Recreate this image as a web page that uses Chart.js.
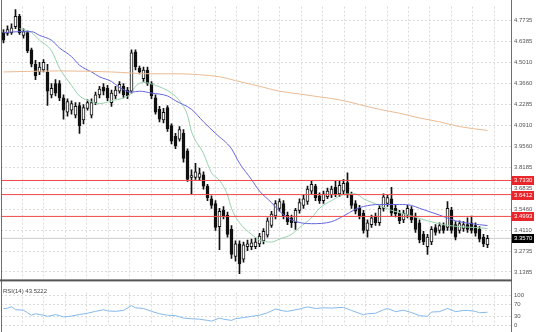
<!DOCTYPE html>
<html><head><meta charset="utf-8">
<script src="https://cdn.jsdelivr.net/npm/chart.js@4.4.1/dist/chart.umd.min.js"></script>
<style>
html,body{margin:0;padding:0;background:#fff;overflow:hidden}
#wrap{position:relative;width:536px;height:332px}
canvas{position:absolute;left:0}
#main{top:0}
#rsi{top:286px}
</style></head><body>
<div id="wrap"><canvas id="main" width="536" height="286"></canvas><canvas id="rsi" width="536" height="46"></canvas></div>
<script>
// ---- candle data (price) ----
const opens = [4.694,4.688,4.694,4.732,4.800,4.676,4.694,4.582,4.488,4.438,
4.451,4.438,4.289,4.363,4.363,4.270,4.176,4.189,4.157,4.220,
4.126,4.201,4.157,4.239,4.289,4.338,4.332,4.239,4.282,4.313,
4.345,4.320,4.313,4.569,4.463,4.395,4.451,4.363,4.270,4.195,
4.126,4.207,4.089,4.020,4.001,4.039,3.926,3.752,3.752,3.752,
3.770,3.696,3.614,3.583,3.433,3.539,3.508,3.415,3.240,3.321,
3.221,3.302,3.302,3.302,3.321,3.340,3.377,3.440,3.502,3.552,
3.583,3.508,3.490,3.458,3.539,3.571,3.596,3.664,3.696,3.633,
3.602,3.627,3.639,3.689,3.646,3.664,3.720,3.639,3.583,3.552,
3.521,3.408,3.446,3.502,3.458,3.552,3.583,3.614,3.552,3.521,
3.477,3.508,3.546,3.502,3.458,3.383,3.302,3.333,3.427,3.408,
3.440,3.427,3.539,3.446,3.408,3.421,3.446,3.458,3.440,3.415,
3.365,3.315];
const highs = [4.713,4.738,4.751,4.844,4.813,4.719,4.707,4.594,4.513,4.501,
4.519,4.488,4.363,4.388,4.382,4.289,4.264,4.251,4.239,4.239,
4.226,4.257,4.264,4.307,4.345,4.363,4.351,4.320,4.345,4.376,
4.363,4.338,4.582,4.582,4.476,4.470,4.470,4.376,4.289,4.214,
4.201,4.220,4.101,4.039,4.083,4.064,3.939,3.802,3.845,3.814,
3.789,3.708,3.633,3.602,3.552,3.564,3.527,3.440,3.340,3.340,
3.333,3.346,3.352,3.358,3.390,3.421,3.490,3.533,3.602,3.614,
3.602,3.527,3.508,3.552,3.614,3.639,3.696,3.727,3.708,3.652,
3.664,3.683,3.696,3.727,3.727,3.739,3.783,3.658,3.602,3.571,
3.539,3.477,3.508,3.521,3.571,3.646,3.639,3.689,3.571,3.539,
3.539,3.571,3.564,3.521,3.477,3.402,3.383,3.433,3.446,3.458,
3.458,3.596,3.558,3.465,3.471,3.465,3.490,3.502,3.458,3.433,
3.383,3.377];
const lows = [4.626,4.676,4.682,4.719,4.682,4.657,4.563,4.470,4.388,4.420,
4.438,4.220,4.270,4.282,4.251,4.132,4.151,4.164,4.139,4.039,
4.101,4.189,4.139,4.226,4.270,4.289,4.251,4.214,4.264,4.301,
4.270,4.264,4.301,4.451,4.426,4.376,4.351,4.264,4.164,4.114,
4.107,4.051,3.970,3.939,3.989,3.852,3.727,3.646,3.739,3.733,
3.677,3.602,3.552,3.408,3.284,3.483,3.365,3.227,3.209,3.127,
3.202,3.277,3.284,3.290,3.302,3.321,3.365,3.427,3.483,3.533,
3.483,3.446,3.427,3.415,3.521,3.552,3.577,3.646,3.602,3.583,
3.583,3.614,3.621,3.627,3.627,3.646,3.621,3.552,3.515,3.483,
3.390,3.365,3.427,3.440,3.440,3.533,3.564,3.502,3.496,3.452,
3.458,3.490,3.458,3.396,3.327,3.315,3.252,3.315,3.377,3.390,
3.390,3.408,3.390,3.346,3.390,3.402,3.396,3.390,3.371,3.333,
3.302,3.296];
const closes = [4.644,4.713,4.725,4.800,4.694,4.700,4.576,4.488,4.413,4.470,
4.501,4.313,4.332,4.301,4.270,4.189,4.245,4.232,4.214,4.089,
4.207,4.239,4.239,4.289,4.326,4.313,4.270,4.301,4.320,4.357,
4.289,4.282,4.563,4.470,4.438,4.451,4.363,4.282,4.176,4.132,
4.176,4.070,3.989,3.958,4.064,3.877,3.739,3.764,3.789,3.777,
3.696,3.621,3.571,3.427,3.533,3.502,3.383,3.252,3.321,3.190,
3.315,3.321,3.327,3.333,3.371,3.402,3.471,3.515,3.583,3.596,
3.502,3.465,3.458,3.539,3.589,3.614,3.677,3.708,3.621,3.602,
3.646,3.664,3.677,3.646,3.702,3.714,3.639,3.571,3.533,3.502,
3.408,3.458,3.490,3.458,3.552,3.627,3.621,3.521,3.515,3.471,
3.521,3.552,3.477,3.415,3.346,3.333,3.365,3.415,3.396,3.440,
3.408,3.552,3.408,3.365,3.452,3.446,3.415,3.408,3.390,3.352,
3.321,3.357];

// ---- moving averages (bar index, value) ----
const greenIdx = [4,7,9,12,14,17,19,22,24,27,30,32,33,35,38,42,44,46,47,50,52,54,56,57,59,62,64,67,69,72,74,77,79,82,86,88,90,94,97,102,106,110,114,118,121];
const greenVal = [4.719,4.694,4.644,4.576,4.463,4.351,4.282,4.245,4.232,4.251,4.270,4.301,4.345,4.370,4.351,4.301,4.251,4.157,4.051,3.908,3.783,3.733,3.639,3.552,3.458,3.383,3.346,3.333,3.352,3.383,3.427,3.490,3.552,3.602,3.646,3.646,3.614,3.571,3.539,3.502,3.471,3.446,3.433,3.427,3.421];
const blueIdx = [0,4,7,9,12,14,17,19,22,24,27,29,32,34,37,41,43,47,50,53,57,59,62,64,67,69,72,77,82,85,88,90,94,99,102,104,109,113,117,121];
const blueVal = [4.694,4.700,4.700,4.676,4.644,4.594,4.538,4.482,4.438,4.407,4.376,4.338,4.307,4.313,4.301,4.282,4.251,4.195,4.114,4.039,3.939,3.845,3.739,3.664,3.589,3.533,3.477,3.452,3.465,3.502,3.546,3.564,3.577,3.577,3.571,3.552,3.508,3.471,3.452,3.440];
const orangeIdx = [0,14,27,37,44,49,54,58,62,64,69,74,79,84,89,94,99,104,109,114,121];
const orangeVal = [4.438,4.445,4.438,4.426,4.426,4.420,4.407,4.382,4.357,4.345,4.313,4.295,4.276,4.257,4.226,4.195,4.170,4.139,4.114,4.083,4.058];

// ---- horizontal levels ----
const levels = [3.7330, 3.6412, 3.4993];
const lastPrice = 3.3570;
const priceTicks = [4.7735,4.6385,4.5010,4.3660,4.2285,4.0910,3.9560,3.8185,3.6835,3.5460,3.4110,3.2735,3.1385];

// ---- RSI ----
const rsiIdx = [0,1,2,3,5,6,7,8,10,11,13,14,15,17,19,21,23,25,26,28,30,32,33,35,37,39,41,43,45,47,49,51,52,54,55,57,58,60,62,64,66,68,70,71,74,76,78,80,82,85,87,90,91,93,95,96,98,100,102,104,106,107,109,111,113,115,116,118,119,121];
const rsiVal = [55.8,56.5,61.9,51.8,50.1,41.6,33.6,38.4,33.6,29.9,35.3,32.2,28.2,30.6,36.0,40.0,46.4,51.8,47.8,46.4,49.4,65.2,58.1,55.8,46.4,38.4,33.6,32.2,24.2,21.9,20.5,16.5,14.1,24.2,20.5,16.5,21.9,25.9,29.9,33.6,41.6,54.1,47.8,46.4,54.1,61.2,55.8,58.1,57.2,59.5,49.4,34.6,38.4,40.0,51.8,55.8,45.4,50.1,42.4,32.2,29.9,44.0,45.4,55.8,45.4,49.4,49.4,46.4,41.6,43.5222];
const rsiTicks = [0,30,70,100];
const rsiTitle = 'RSI(14) 43.5222';

// ---- layout constants ----
const xMin = -0.625, xMax = 126.875, gridStep = 5.3625;
const yMin = 3.0900, yMax = 4.8628;
const rsiMin = 0, rsiMax = 108.2;
const FONT = {family:'Liberation Sans', size:6};
const GRID = '#dcdcdc';

const idx = closes.map((_, i) => i);
const pts = (ix, vals) => ix.map((x, k) => ({x, y: vals[k]}));

function xAxis() {
  return {
    type:'linear', min:xMin, max:xMax, position:'bottom', offset:false,
    afterBuildTicks: s => { const t=[]; for (let v=xMin+gridStep; v<xMax; v+=gridStep) t.push({value:v}); s.ticks=t; },
    afterFit: s => { s.height = 0; },
    ticks:{display:false},
    grid:{color:GRID, drawTicks:false, offset:false},
    border:{display:false, dash:[2,2]}
  };
}

const frame = {
  id:'frame',
  afterDraw(chart, args, o) {
    const {ctx, chartArea:a} = chart;
    ctx.save();
    ctx.fillStyle = '#6e6e6e';
    ctx.fillRect(1, 0, 1, chart.height);
    ctx.fillRect(a.right, 0, 1, chart.height);
    if (o.divider) { ctx.fillStyle = '#555'; ctx.fillRect(0, a.bottom, a.right + 1, 2); }
    ctx.font = '6px "Liberation Sans"';
    ctx.textBaseline = 'middle';
    const y = chart.scales.y;
    (o.boxes || []).forEach(b => {
      const py = Math.round(y.getPixelForValue(b.v));
      ctx.fillStyle = b.c;
      ctx.fillRect(a.right + 1, py - 4, 22, 9);
      ctx.fillStyle = '#fff';
      ctx.fillText(b.v.toFixed(4), a.right + 3, py + 0.5);
    });
    if (o.title) {
      ctx.fillStyle = '#444';
      ctx.textBaseline = 'top';
      ctx.fillText(o.title, 3, 2);
    }
    ctx.restore();
  }
};

const levelSets = levels.map(v => ({type:'line', data:[{x:xMin,y:v},{x:xMax,y:v}], borderColor:'#f04848', borderWidth:1, pointRadius:0, order:0}));

new Chart(document.getElementById('main'), {
  data: {
    datasets: [
      {type:'line', data:[{x:xMin,y:lastPrice},{x:xMax,y:lastPrice}], borderColor:'#cccccc', borderWidth:1, pointRadius:0, order:5},
      {type:'bar', data: idx.map(i => ({x:i, y:[lows[i], highs[i]]})), backgroundColor:'#111', borderWidth:0, barThickness:1, grouped:false, order:4},
      {type:'bar', data: idx.map(i => ({x:i, y:[opens[i], closes[i]]})), backgroundColor: idx.map(i => closes[i] >= opens[i] ? '#fff' : '#111'), borderColor:'#111', borderWidth:1, borderSkipped:false, barThickness:3, grouped:false, minBarLength:1, order:3},
      {type:'line', data: pts(orangeIdx, orangeVal), borderColor:'#e9bb94', borderWidth:1, pointRadius:0, cubicInterpolationMode:'monotone', order:1},
      {type:'line', data: pts(blueIdx, blueVal), borderColor:'#6464dc', borderWidth:1, pointRadius:0, cubicInterpolationMode:'monotone', order:1},
      {type:'line', data: pts(greenIdx, greenVal), borderColor:'#96d0ac', borderWidth:1, pointRadius:0, cubicInterpolationMode:'monotone', order:1},
      ...levelSets
    ]
  },
  options: {
    responsive:false, animation:false, devicePixelRatio:1,
    layout:{padding:{left:1, top:0, right:0, bottom:2}},
    plugins:{legend:{display:false}, tooltip:{enabled:false},
      frame:{divider:true, boxes:[...levels.map(v => ({v, c:'#e8262b'})), {v:lastPrice, c:'#000'}]}},
    scales:{
      x: xAxis(),
      y: {type:'linear', position:'right', min:yMin, max:yMax,
        afterBuildTicks: s => { s.ticks = priceTicks.map(v => ({value:v})); },
        afterFit: s => { s.width = 25; },
        ticks:{font:FONT, color:'#555', padding:3, autoSkip:false, callback: v => Number(v).toFixed(4)},
        grid:{color:GRID, drawTicks:false},
        border:{display:false, dash:[2,2]}
      }
    }
  },
  plugins:[frame]
});

new Chart(document.getElementById('rsi'), {
  data: {
    datasets: [
      {type:'line', data: pts(rsiIdx, rsiVal), borderColor:'#86b8ea', borderWidth:1, pointRadius:0, order:1}
    ]
  },
  options: {
    responsive:false, animation:false, devicePixelRatio:1,
    layout:{padding:{left:1, top:0, right:0, bottom:0}},
    plugins:{legend:{display:false}, tooltip:{enabled:false}, frame:{title:rsiTitle}},
    scales:{
      x: xAxis(),
      y: {type:'linear', position:'right', min:rsiMin, max:rsiMax,
        afterBuildTicks: s => { s.ticks = rsiTicks.map(v => ({value:v})); },
        afterFit: s => { s.width = 25; },
        ticks:{font:FONT, color:'#555', padding:3, autoSkip:false, callback: v => String(v)},
        grid:{color:GRID, drawTicks:false},
        border:{display:false, dash:[2,2]}
      }
    }
  },
  plugins:[frame]
});
</script>
</body></html>
